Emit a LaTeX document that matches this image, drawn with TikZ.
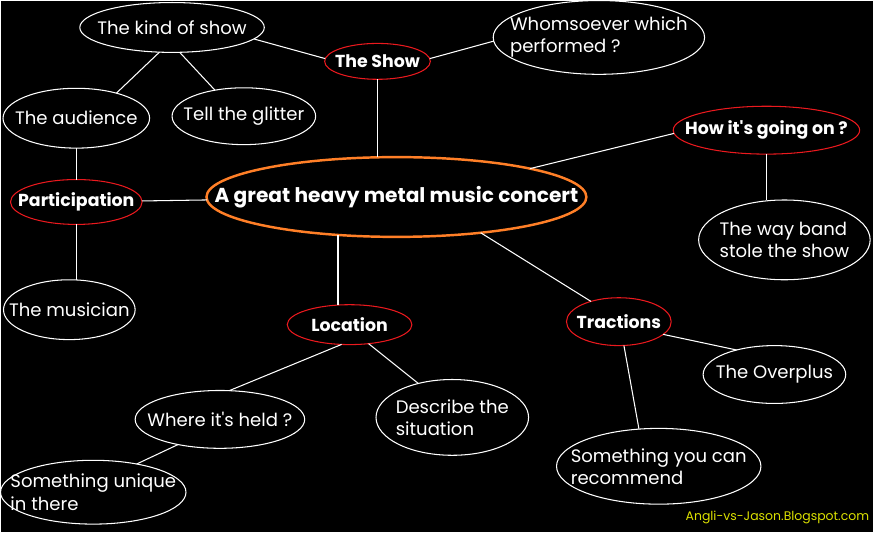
\documentclass[tikz,border=0pt]{standalone}
\usepackage{fontspec}
\setmainfont{Poppins}
\usepackage{tikz}
\usetikzlibrary{shapes.geometric}
\definecolor{concertorange}{RGB}{255,127,39}
\definecolor{topicred}{RGB}{235,25,30}
\definecolor{blogyellow}{RGB}{220,225,0}

\begin{document}
\begin{tikzpicture}[
    x=0.02cm, y=-0.02cm,
    idea/.style={ellipse, draw=white, line width=0.6pt, inner sep=-20pt, outer sep=0pt, text=white, font=\fontsize{10.3}{12.6}\selectfont, align=left},
    topic/.style={idea, draw=topicred, font=\fontsize{9.9}{12}\selectfont\bfseries},
    hub/.style={idea, draw=concertorange, line width=1.4pt, inner sep=-40pt, font=\fontsize{11.5}{14}\selectfont\bfseries},
    link/.style={white, line width=0.6pt}
]
\fill[black] (0,0) rectangle (875,533);

\node[hub, minimum width=7.62cm, minimum height=1.6cm] (main) at (397,197) {A great heavy metal music concert};

\node[topic, minimum width=2.12cm, minimum height=0.72cm] (show) at (378,61) {The Show};
\node[idea, minimum width=3.7cm, minimum height=1cm] (kind) at (172,27) {The kind of show};
\node[idea, minimum width=4.24cm, minimum height=1.48cm] (whom) at (600,37) {Whomsoever which\\performed ?};
\node[idea, minimum width=2.94cm, minimum height=1.2cm] (aud) at (76,118) {The audience};
\node[idea, minimum width=2.88cm, minimum height=1.14cm] (glit) at (244,116) {Tell the glitter};

\node[topic, minimum width=2.64cm, minimum height=0.9cm] (part) at (76,202) {Participation};
\node[idea, minimum width=2.64cm, minimum height=1.2cm] (mus) at (69,310) {The musician};

\node[topic, minimum width=3.74cm, minimum height=0.96cm] (how) at (768,130) {How it\textquotesingle s going on ?};
\node[idea, minimum width=3.44cm, minimum height=1.6cm] (way) at (786,240) {The way band\\stole the show};

\node[topic, minimum width=2.5cm, minimum height=0.8cm] (loc) at (350,325) {Location};
\node[idea, minimum width=3.4cm, minimum height=1.16cm] (held) at (220,420) {Where it\textquotesingle s held ?};
\node[idea, minimum width=3.06cm, minimum height=1.52cm] (desc) at (453,418) {Describe the\\situation};
\node[idea, minimum width=3.72cm, minimum height=1.28cm] (uniq) at (93,493) {Something unique\\in there};

\node[topic, minimum width=2.1cm, minimum height=0.96cm] (trac) at (620,322) {Tractions};
\node[idea, minimum width=2.86cm, minimum height=1.16cm] (over) at (776,375) {The Overplus};
\node[idea, minimum width=4.1cm, minimum height=1.52cm] (rec) at (660,467) {Something you can\\recommend};

\node[text=blogyellow, font=\fontsize{7.1}{9}\selectfont] (blog) at (779,518) {Angli-vs-Jason.Blogspot.com};

\draw[link] (show) -- (show |- main.north);
\draw[link] (kind.-8) -- (show.177);
\draw[link] (show.3) -- (whom.182);
\draw[link] (kind.243) -- (aud.32);
\draw[link] (kind.287) -- (glit.138);
\draw[link] (aud) -- (part);
\draw[link] (part) -- (main);
\draw[link] (part) -- (part |- mus.north);
\draw[link] (main.12) -- (how.182);
\draw[link] (how) -- (how |- way.north);
\draw[link] (main.213) -- (main.213 |- loc.north);
\draw[link] (main.-23) -- (trac.144);
\draw[link] (loc.248) -- (held.72);
\draw[link] (loc.315) -- (desc.135);
\draw[link] (held.211) -- (uniq.33);
\draw[link] (trac.-16) -- (over.147);
\draw[link] (trac.282) -- (rec.118);
\end{tikzpicture}
\end{document}
